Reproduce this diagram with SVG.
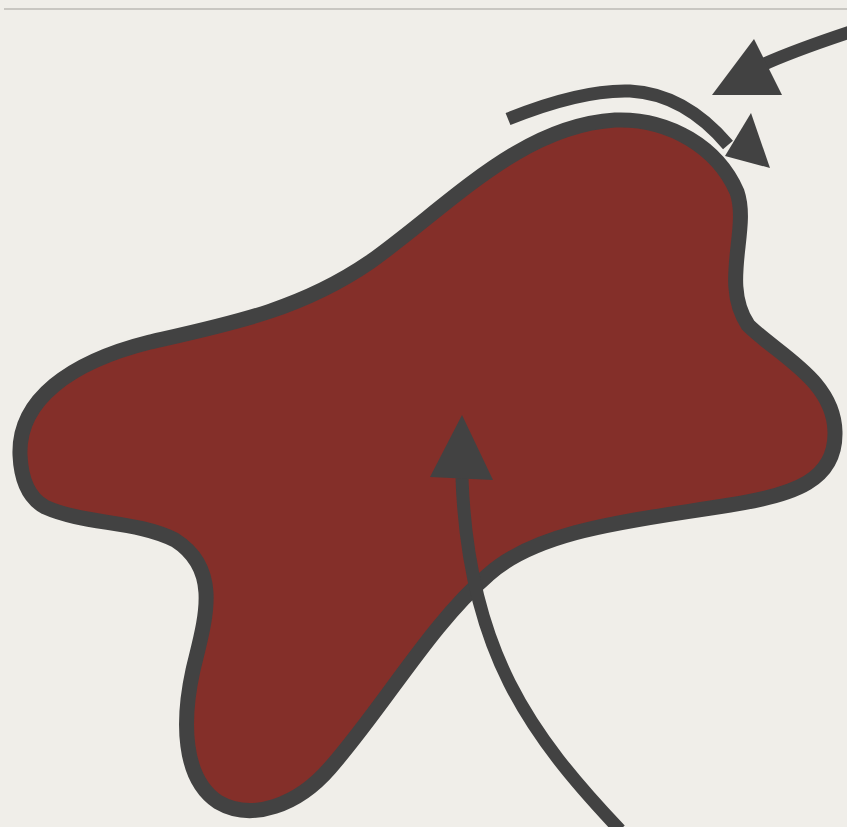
<svg xmlns="http://www.w3.org/2000/svg" width="847" height="827" viewBox="0 0 847 827">
<defs>
<style>
.ln{fill:none;stroke:#424242;stroke-width:13;stroke-linecap:butt}
.hd{fill:#424242}
</style>
</defs>
<rect x="0" y="0" width="847" height="827" fill="#f0eee9"/>
<line x1="4" y1="9" x2="847" y2="9" stroke="#c9c7c2" stroke-width="2"/>
<g id="blob">
<path d="M 20,455 C 18,400 70,362 150,342 C 230,324 300,310 370,262 C 450,205 520,126 615,120 C 670,118 718,148 737,192 C 750,230 720,283 748,325 C 778,355 834,380 835,432 C 836,480 795,495 730,505 C 640,520 540,528 488,575 C 430,625 385,705 330,768 C 298,805 252,822 218,802 C 182,778 182,720 193,670 C 205,620 222,570 175,540 C 135,520 85,525 45,507 C 27,497 21,478 20,455 Z" fill="#842f29" stroke="#424242" stroke-width="15" stroke-linejoin="round"/>
</g>
<g id="connectors">
<path class="ln" d="M 508,119 C 560,98 600,90 630,91 C 668,93 700,112 728,145"/>
<polygon class="hd" points="770,168 751,113 725,156"/>
<path class="ln" d="M 620,830 C 530,735 468,650 462,478"/>
<polygon class="hd" points="462,415 430,477 493,480"/>
<path class="ln" d="M 850,32 C 820,42 790,52 760,66"/>
<polygon class="hd" points="712,95 754,39 782,95"/>
</g>
</svg>
